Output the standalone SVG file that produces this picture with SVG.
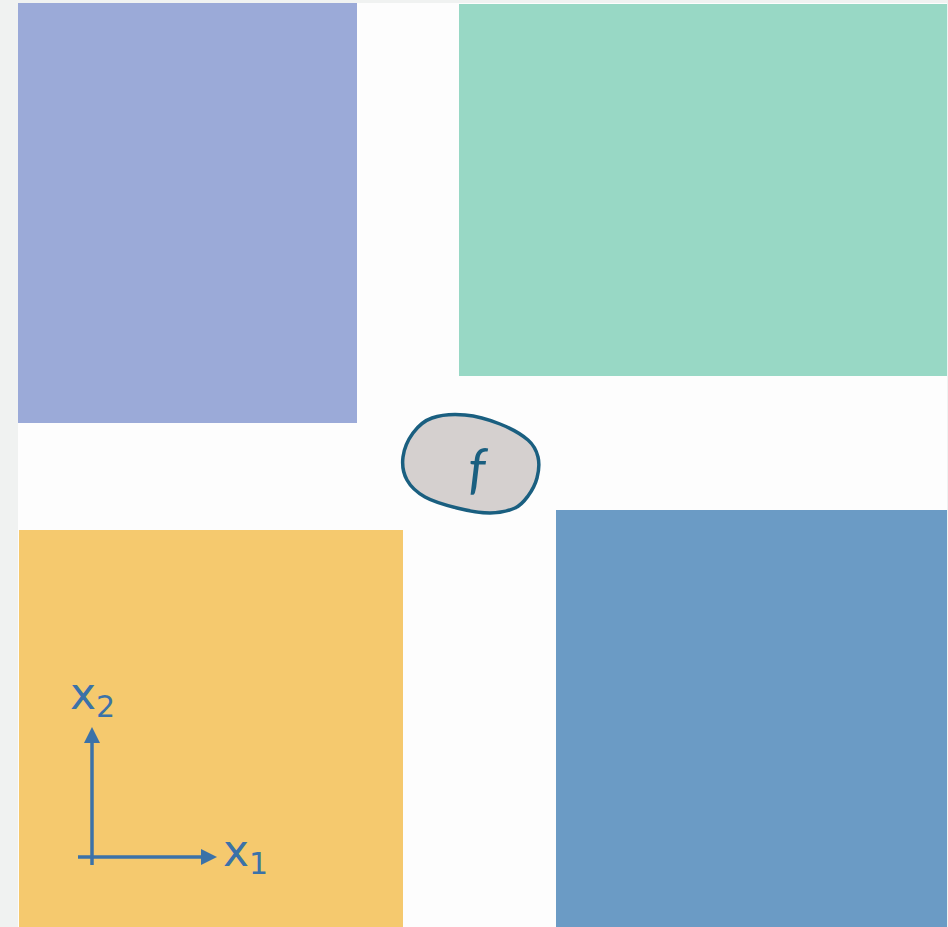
<svg xmlns="http://www.w3.org/2000/svg" width="948" height="927" viewBox="0 0 948 927">
<defs>
<style>
.ax{stroke:#3b72a8;stroke-width:3.5;fill:none}
.lbl{font-family:"DejaVu Sans",sans-serif;fill:#3b72a8}
</style>
<marker id="ah" markerWidth="16" markerHeight="16" refX="11" refY="8" orient="auto" markerUnits="userSpaceOnUse" viewBox="0 0 16 16">
<path d="M0,0 L16,8 L0,16 Z" fill="#3b72a8"/>
</marker>
</defs>
<rect x="0" y="0" width="948" height="927" fill="#f0f2f1"/>
<rect x="18" y="3" width="929" height="924" fill="#fdfdfd"/>
<g id="purple"><rect x="18" y="3" width="339" height="420" fill="#9baad8"/></g>
<g id="teal"><rect x="459" y="4" width="488" height="372" fill="#98d8c5"/></g>
<g id="yellow"><rect x="19" y="530" width="384" height="397" fill="#f5c96e"/></g>
<g id="blue"><rect x="556" y="510" width="391" height="417" fill="#6b9bc5"/></g>
<g id="f">
<path d="M432,418 C440.7,415 453.7,414 465,415 C476.3,416 489.5,419.8 500,424 C510.5,428.2 521.7,434.5 528,440 C534.3,445.5 536.5,450.7 538,457 C539.5,463.3 538.7,471.5 537,478 C535.3,484.5 531.7,491 528,496 C524.3,501 521.3,505.2 515,508 C508.7,510.8 499.7,513 490,513 C480.3,513 467.8,510.7 457,508 C446.2,505.3 433.3,501.7 425,497 C416.7,492.3 410.7,486.7 407,480 C403.3,473.3 402,464.8 403,457 C404,449.2 408.2,439.5 413,433 C417.8,426.5 423.3,421 432,418 Z" fill="#d5d0cf" stroke="#1a5f80" stroke-width="3.5"/>
<text x="477" y="487" font-family="Lato,sans-serif" font-style="italic" font-size="54" fill="#1a5f80" text-anchor="middle">f</text>
</g>
<g id="connectors">
<line class="ax" x1="92" y1="865" x2="92" y2="732" marker-end="url(#ah)"/>
<line class="ax" x1="78" y1="857" x2="212" y2="857" marker-end="url(#ah)"/>
</g>
<g id="labels">
<text class="lbl" x="70" y="709" font-size="44">x<tspan font-size="30" dy="8">2</tspan></text>
<text class="lbl" x="223" y="866" font-size="44">x<tspan font-size="30" dy="8">1</tspan></text>
</g>
</svg>
